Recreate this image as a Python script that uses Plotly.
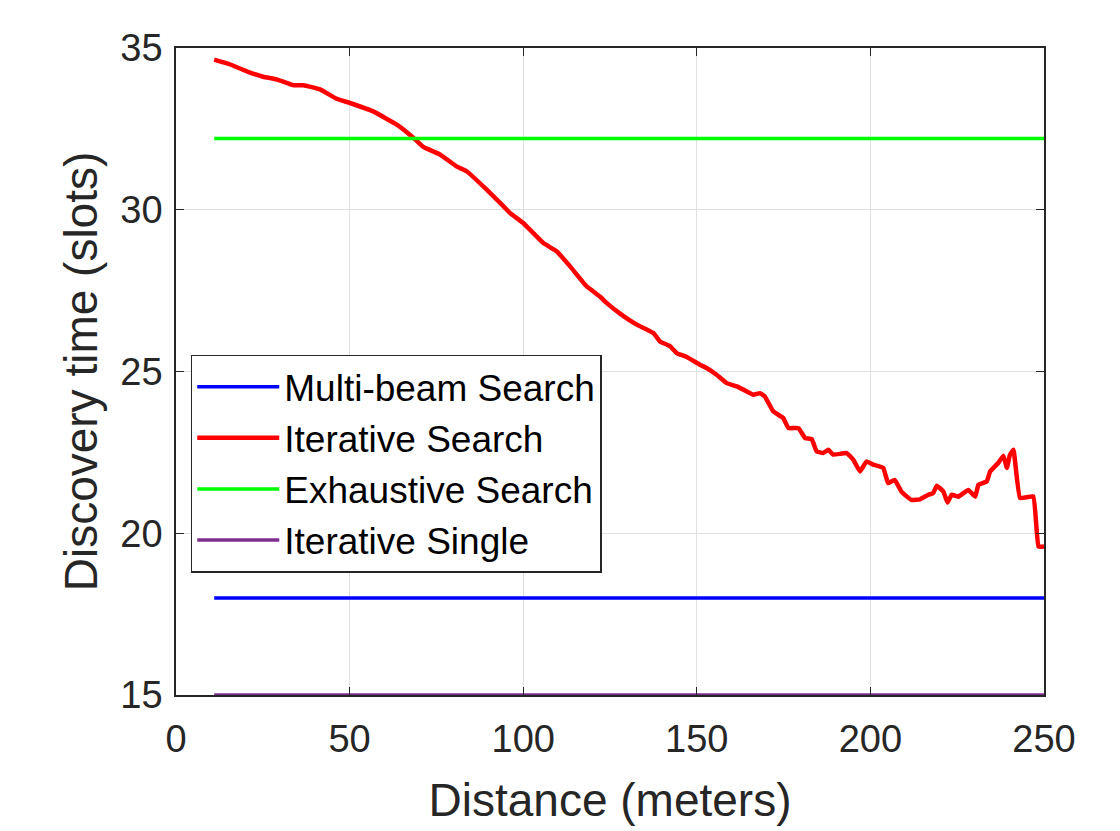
import plotly.graph_objects as go

# ---- data ----
dist_start = 11
dist_end = 250

multi_beam = 18.0
exhaustive = 32.2
iter_single = 15.0

iter_x = [11, 15.6, 20.4, 25.1, 29, 33.8, 36.7, 41.5, 46.3, 50.1, 56.8, 63.6, 68.4, 71.2, 76,
          80.8, 83.7, 89.5, 94.3, 96.2, 100, 105.8, 109.7, 113.5, 118.3, 122.1, 124, 127.9,
          132.7, 137.5, 139.4, 142.3, 144.2, 147.1, 150.9, 152.8, 155.7, 158.6, 161.5, 163.4,
          166.3, 168.2, 169.6, 172, 174.9, 176.4, 179.3, 181.2, 183.1, 184.5, 186.4, 187.9,
          189.3, 193.2, 195.1, 197, 198.9, 200.8, 203.7, 205.1, 207, 209, 211.8, 214.3, 216.7,
          218.1, 219.1, 221, 222.2, 223.4, 225.3, 228.2, 230.2, 231.1, 233.5, 234.5, 236.8,
          238.3, 239.3, 240.2, 241.2, 243.1, 246.9, 248.4, 250]
iter_y = [34.64, 34.49, 34.28, 34.11, 34.03, 33.85, 33.85, 33.72, 33.43, 33.3, 33.04, 32.63,
          32.22, 31.94, 31.71, 31.34, 31.19, 30.62, 30.11, 29.9, 29.59, 28.97, 28.71, 28.25,
          27.63, 27.32, 27.12, 26.79, 26.45, 26.19, 25.93, 25.78, 25.57, 25.45, 25.21, 25.11,
          24.9, 24.64, 24.54, 24.44, 24.28, 24.33, 24.23, 23.77, 23.56, 23.25, 23.25, 22.94,
          22.91, 22.53, 22.48, 22.58, 22.43, 22.48, 22.27, 21.91, 22.22, 22.12, 22.02, 21.55,
          21.65, 21.28, 21.03, 21.05, 21.19, 21.24, 21.47, 21.29, 20.95, 21.19, 21.13, 21.34,
          21.13, 21.5, 21.6, 21.91, 22.17, 22.4, 22.02, 22.43, 22.58, 21.09, 21.14, 19.59,
          19.59]

x_ticks = [0, 50, 100, 150, 200, 250]
y_ticks = [15, 20, 25, 30, 35]

FONT = "Liberation Sans, Arial, sans-serif"
TXT = "#262626"

fig = go.Figure()
fig.add_trace(go.Scatter(x=[dist_start, dist_end], y=[multi_beam, multi_beam], mode="lines",
                         name="Multi-beam Search", line=dict(color="#0000FF", width=3.5)))
fig.add_trace(go.Scatter(x=iter_x, y=iter_y, mode="lines",
                         name="Iterative Search", line=dict(color="#FF0000", width=4.5,
                                                            shape="spline", smoothing=0.3)))
fig.add_trace(go.Scatter(x=[dist_start, dist_end], y=[exhaustive, exhaustive], mode="lines",
                         name="Exhaustive Search", line=dict(color="#00FF00", width=3.5)))
fig.add_trace(go.Scatter(x=[dist_start, dist_end], y=[iter_single, iter_single], mode="lines",
                         name="Iterative Single", line=dict(color="#7E2F8E", width=3.5)))

axis_common = dict(showline=True, linecolor=TXT, linewidth=1.5, mirror="ticks",
                   ticks="inside", ticklen=8, tickcolor=TXT, showgrid=True,
                   gridcolor="#E0E0E0", gridwidth=1, zeroline=False,
                   tickfont=dict(family=FONT, size=38, color=TXT))

fig.update_xaxes(range=[0, 250], tickvals=x_ticks, ticklabelstandoff=10,
                 title=dict(text="Distance (meters)", font=dict(family=FONT, size=46, color=TXT),
                            standoff=24),
                 **axis_common)
fig.update_yaxes(range=[15, 35], tickvals=y_ticks, ticklabelstandoff=4,
                 title=dict(text="Discovery time (slots)", font=dict(family=FONT, size=46, color=TXT),
                            standoff=8),
                 **axis_common)

fig.update_layout(
    width=1120, height=831,
    margin=dict(l=168, r=84, t=40, b=144),
    paper_bgcolor="white", plot_bgcolor="white",
    font=dict(family=FONT, color=TXT),
    legend=dict(x=0.017, y=0.526, xanchor="left", yanchor="top",
                bgcolor="white", bordercolor=TXT, borderwidth=1.5,
                font=dict(family=FONT, size=37, color="black"),
                itemwidth=82, tracegroupgap=0),
)

fig.write_html("out.html")
